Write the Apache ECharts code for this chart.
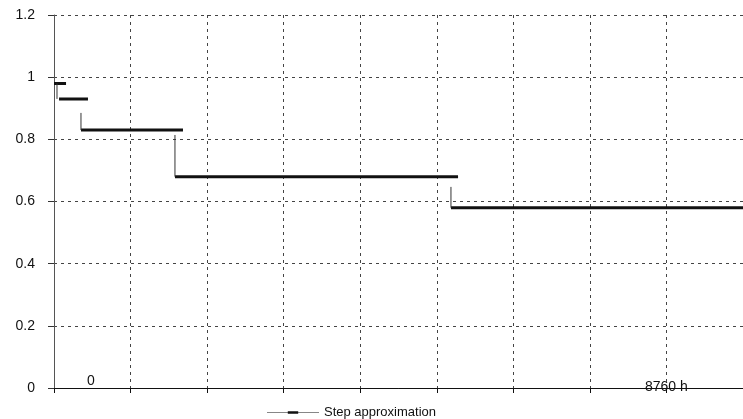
<!DOCTYPE html>
<html><head><meta charset="utf-8">
<script src="https://cdn.jsdelivr.net/npm/echarts@6/dist/echarts.min.js"></script>
<style>html,body{margin:0;padding:0;background:#fff}#c{width:743px;height:419px}</style>
</head><body><div id="c"></div>
<script>
// Step levels (availability factor) and their hour ranges
const seriesName = 'Step approximation';
const levels   = [0.98, 0.93, 0.83, 0.68, 0.58];
const segStart = [0, 64, 343, 1538, 5047];
const segEnd   = [153, 432, 1640, 5137, 8760];
// thin vertical connectors between steps
const dropX      = [38, 343, 1538, 5047];
const dropTop    = [0.98, 0.885, 0.814, 0.647];
const dropBottom = [0.93, 0.83, 0.68, 0.58];
// axis ranges / tick labels
const xMax = 8760, xInterval = 8760 / 9;
const yMin = 0, yMax = 1.2, yInterval = 0.2;
const xLabelStart = '0', xLabelEnd = '8760 h';

const chart = echarts.init(document.getElementById('c'), null, {renderer: 'canvas'});
const series = [];
levels.forEach((v, i) => {
  series.push({
    name: seriesName, type: 'line', showSymbol: false, symbol: 'circle', symbolSize: 4,
    lineStyle: {color: '#111', width: 3}, itemStyle: {color: '#111'},
    data: [[segStart[i], v], [segEnd[i], v]], silent: true, animation: false
  });
});
dropX.forEach((x, i) => {
  series.push({
    name: seriesName, type: 'line', showSymbol: false, symbol: 'circle', symbolSize: 4,
    lineStyle: {color: '#333', width: 1}, itemStyle: {color: '#111'},
    data: [[x, dropTop[i]], [x, dropBottom[i]]], silent: true, animation: false
  });
});

const gridStyle = {show: true, lineStyle: {color: '#444', width: 1, type: [3, 4]}};
chart.setOption({
  backgroundColor: '#fff',
  animation: false,
  grid: {left: 54, right: 0, top: 15, bottom: 31, containLabel: false},
  xAxis: {
    type: 'value', min: 0, max: xMax, interval: xInterval,
    axisLine: {show: true, onZero: false, lineStyle: {color: '#111', width: 1}},
    axisTick: {show: true, inside: false, length: 5, lineStyle: {color: '#111'}},
    axisLabel: {show: false},
    splitLine: gridStyle
  },
  yAxis: {
    type: 'value', min: yMin, max: yMax, interval: yInterval,
    axisLine: {show: true, lineStyle: {color: '#555', width: 1}},
    axisTick: {show: true, length: 6, lineStyle: {color: '#333'}},
    axisLabel: {color: '#111', fontSize: 14, fontFamily: 'Liberation Sans, Arial, sans-serif', margin: 19,
      formatter: v => String(Math.round(v * 10) / 10)},
    splitLine: gridStyle
  },
  legend: {
    show: true, left: 262, top: 401, itemWidth: 52, itemHeight: 8, itemGap: 10,
    textStyle: {color: '#111', fontSize: 13, fontFamily: 'Liberation Sans, Arial, sans-serif'},
    data: [{name: seriesName, icon: 'path://M0,4 L100,4 L100,5 L0,5 Z M40,2 L60,2 L60,7 L40,7 Z'}]
  },
  graphic: [
    {type: 'text', left: 87, top: 374, style: {text: xLabelStart, fill: '#111', fontSize: 14, fontFamily: 'Liberation Sans, Arial, sans-serif'}},
    {type: 'text', left: 645, top: 380, style: {text: xLabelEnd, fill: '#111', fontSize: 14, fontFamily: 'Liberation Sans, Arial, sans-serif'}}
  ],
  series: series
});
</script></body></html>
